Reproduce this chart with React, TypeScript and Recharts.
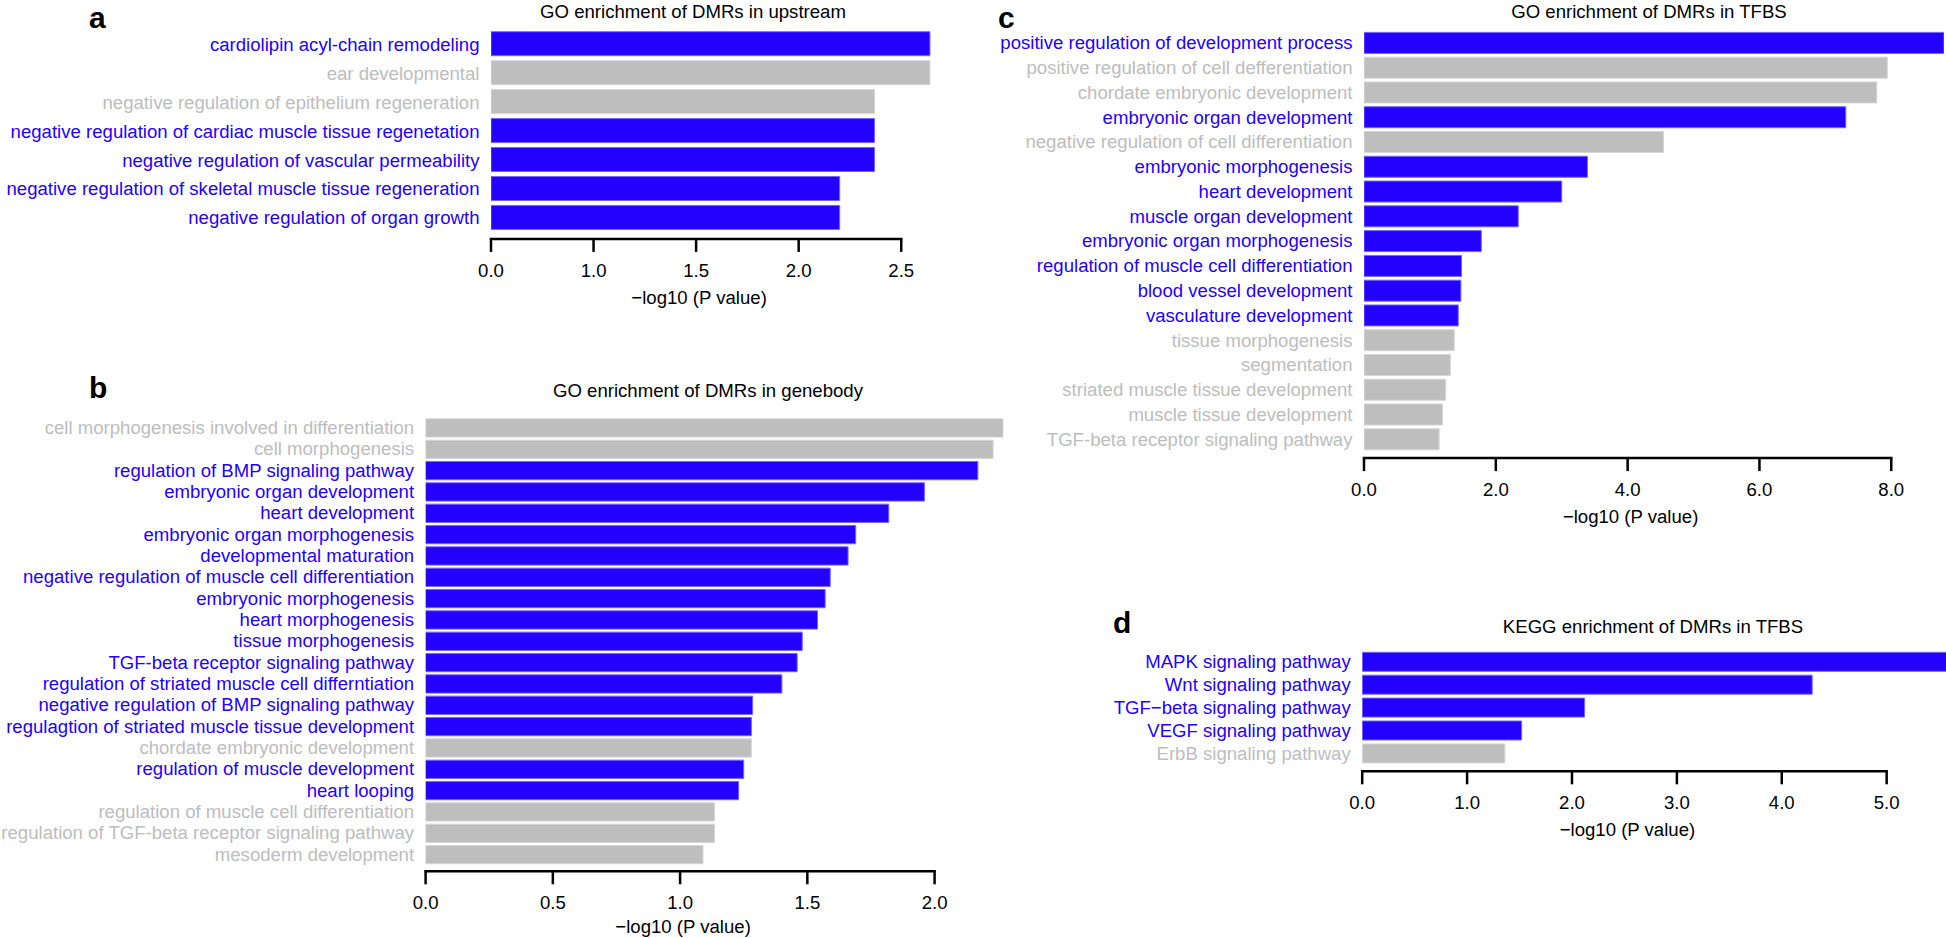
import React from 'react';
import { BarChart, Bar, XAxis, YAxis, Cell } from 'recharts';

const BLUE = '#2400ff';
const BLUE_EDGE = '#7466ff';
const GRAY = '#bebebe';
const GRAY_EDGE = '#d6d6d6';
const GRAY_TEXT = '#bdbdbd';
const FONT = '"Liberation Sans", Arial, Helvetica, sans-serif';
const FONT_SIZE = 18.6;
const AXIS_TITLE = '\u2212log10 (P value)';

// a: GO enrichment, upstream
const upstreamTerms = [
  'cardiolipin acyl-chain remodeling',
  'ear developmental',
  'negative regulation of epithelium regeneration',
  'negative regulation of cardiac muscle tissue regenetation',
  'negative regulation of vascular permeability',
  'negative regulation of skeletal muscle tissue regeneration',
  'negative regulation of organ growth',
];
const upstreamValues = [2.64, 2.64, 2.37, 2.37, 2.37, 2.2, 2.2];
const upstreamBlue = [true, false, false, true, true, true, true];
const upstreamTicks = [0.5, 1, 1.5, 2, 2.5];
const upstreamTickLabels = ['0.0', '1.0', '1.5', '2.0', '2.5'];

// b: GO enrichment, genebody
const genebodyTerms = [
  'cell morphogenesis involved in differentiation',
  'cell morphogenesis',
  'regulation of BMP signaling pathway',
  'embryonic organ development',
  'heart development',
  'embryonic organ morphogenesis',
  'developmental maturation',
  'negative regulation of muscle cell differentiation',
  'embryonic morphogenesis',
  'heart morphogenesis',
  'tissue morphogenesis',
  'TGF-beta receptor signaling pathway',
  'regulation of striated muscle cell differntiation',
  'negative regulation of BMP signaling pathway',
  'regulagtion of striated muscle tissue development',
  'chordate embryonic development',
  'regulation of muscle development',
  'heart looping',
  'regulation of muscle cell differentiation',
  'regulation of TGF-beta receptor signaling pathway',
  'mesoderm development',
];
const genebodyValues = [
  2.27, 2.23, 2.17, 1.96, 1.82, 1.69, 1.66, 1.59, 1.57, 1.54, 1.48,
  1.46, 1.4, 1.285, 1.28, 1.28, 1.25, 1.23, 1.135, 1.135, 1.09,
];
const genebodyBlue = [
  false, false, true, true, true, true, true, true, true, true, true,
  true, true, true, true, false, true, true, false, false, false,
];
const genebodyTicks = [0, 0.5, 1, 1.5, 2];
const genebodyTickLabels = ['0.0', '0.5', '1.0', '1.5', '2.0'];

// c: GO enrichment, TFBS
const tfbsTerms = [
  'positive regulation of development process',
  'positive regulation of cell defferentiation',
  'chordate embryonic development',
  'embryonic organ development',
  'negative regulation of cell differentiation',
  'embryonic morphogenesis',
  'heart development',
  'muscle organ development',
  'embryonic organ morphogenesis',
  'regulation of muscle cell differentiation',
  'blood vessel development',
  'vasculature development',
  'tissue morphogenesis',
  'segmentation',
  'striated muscle tissue development',
  'muscle tissue development',
  'TGF-beta receptor signaling pathway',
];
const tfbsValues = [
  8.8, 7.94, 7.78, 7.31, 4.545, 3.39, 3.0, 2.34, 1.78, 1.48, 1.47,
  1.43, 1.37, 1.31, 1.24, 1.19, 1.14,
];
const tfbsBlue = [
  true, false, false, true, false, true, true, true, true, true, true,
  true, false, false, false, false, false,
];
const tfbsTicks = [0, 2, 4, 6, 8];
const tfbsTickLabels = ['0.0', '2.0', '4.0', '6.0', '8.0'];

// d: KEGG enrichment, TFBS
const keggTerms = [
  'MAPK signaling pathway',
  'Wnt signaling pathway',
  'TGF\u2212beta signaling pathway',
  'VEGF signaling pathway',
  'ErbB signaling pathway',
];
const keggValues = [5.6, 4.29, 2.12, 1.52, 1.36];
const keggBlue = [true, true, true, true, false];
const keggTicks = [0, 1, 2, 3, 4, 5];
const keggTickLabels = ['0.0', '1.0', '2.0', '3.0', '4.0', '5.0'];

const AxisTick = (props: any) => {
  const { x, y, index, labels, span, titleOffset } = props;
  const base = y + 6.5;
  return (
    <g>
      {index === 0 && (
        <line x1={x - 1.25} x2={x + span + 1.25} y1={base} y2={base} stroke="#000" strokeWidth={2.5} />
      )}
      <line x1={x} x2={x} y1={base} y2={base + 13} stroke="#000" strokeWidth={2.5} />
      <text x={x} y={base + 31.5} textAnchor="middle" dominantBaseline="central" fontSize={FONT_SIZE} fontFamily={FONT} fill="#000">
        {labels[index]}
      </text>
      {index === 0 && (
        <text x={x + span / 2 + 3} y={base + titleOffset} textAnchor="middle" dominantBaseline="central" fontSize={FONT_SIZE} fontFamily={FONT} fill="#000">
          {AXIS_TITLE}
        </text>
      )}
    </g>
  );
};

const TermTick = (props: any) => {
  const { x, y, index, payload, blue } = props;
  return (
    <text x={x - 11.5} y={y} textAnchor="end" dominantBaseline="central" fontSize={FONT_SIZE} fontFamily={FONT} fill={blue[index] ? BLUE : GRAY_TEXT}>
      {payload.value}
    </text>
  );
};

interface PanelProps {
  terms: string[];
  values: number[];
  blue: boolean[];
  ticks: number[];
  tickLabels: string[];
  domain: [number, number];
  left: number;
  top: number;
  labelWidth: number;
  plotTop: number;
  plotWidth: number;
  plotHeight: number;
  barSize: number;
  titleOffset?: number;
}

function Panel(p: PanelProps) {
  const data = p.terms.map((term, i) => ({ term, value: p.values[i] }));
  const axisHeight = 80;
  const ppu = p.plotWidth / (p.domain[1] - p.domain[0]);
  const span = (p.ticks[p.ticks.length - 1] - p.ticks[0]) * ppu;
  return (
    <div style={{ position: 'absolute', left: p.left, top: p.top }}>
      <BarChart
        layout="vertical"
        width={p.labelWidth + p.plotWidth + 4}
        height={p.plotTop + p.plotHeight + axisHeight}
        data={data}
        margin={{ top: p.plotTop, right: 4, bottom: 0, left: 0 }}
        barSize={p.barSize}
      >
        <XAxis
          type="number"
          domain={p.domain}
          ticks={p.ticks}
          interval={0}
          allowDataOverflow
          axisLine={false}
          tickLine={false}
          tickSize={0}
          tickMargin={0}
          height={axisHeight}
          tick={(t: any) => (
            <AxisTick {...t} labels={p.tickLabels} span={span} titleOffset={p.titleOffset ?? 58.5} />
          )}
        />
        <YAxis
          type="category"
          dataKey="term"
          width={p.labelWidth}
          interval={0}
          axisLine={false}
          tickLine={false}
          tickSize={0}
          tickMargin={0}
          tick={(t: any) => <TermTick {...t} blue={p.blue} />}
        />
        <Bar dataKey="value" isAnimationActive={false}>
          {data.map((d, i) => (
            <Cell
              key={`cell-${i}`}
              fill={p.blue[i] ? BLUE : GRAY}
              stroke={p.blue[i] ? BLUE_EDGE : GRAY_EDGE}
              strokeWidth={1}
            />
          ))}
        </Bar>
      </BarChart>
    </div>
  );
}

export default function App() {
  const letter = { fontSize: 30, fontWeight: 700, fontFamily: FONT, fill: '#000' } as const;
  const title = { fontSize: FONT_SIZE, fontFamily: FONT, fill: '#000', textAnchor: 'middle' } as const;
  return (
    <div style={{ position: 'absolute', left: 0, top: 0, width: 1946, height: 938, overflow: 'hidden', background: '#fff', fontFamily: FONT }}>
      <Panel
        terms={upstreamTerms} values={upstreamValues} blue={upstreamBlue}
        ticks={upstreamTicks} tickLabels={upstreamTickLabels} domain={[0.5, 2.65]}
        left={0} top={0} labelWidth={491} plotTop={29.7} plotWidth={441} plotHeight={202.7} barSize={24}
      />
      <Panel
        terms={genebodyTerms} values={genebodyValues} blue={genebodyBlue}
        ticks={genebodyTicks} tickLabels={genebodyTickLabels} domain={[0, 2.27]}
        left={0} top={400} labelWidth={425.6} plotTop={16.8} plotWidth={577.7} plotHeight={448} barSize={18.3}
        titleOffset={55.5}
      />
      <Panel
        terms={tfbsTerms} values={tfbsValues} blue={tfbsBlue}
        ticks={tfbsTicks} tickLabels={tfbsTickLabels} domain={[0, 8.8]}
        left={960} top={0} labelWidth={404} plotTop={30.4} plotWidth={580} plotHeight={421.2} barSize={21}
      />
      <Panel
        terms={keggTerms} values={keggValues} blue={keggBlue}
        ticks={keggTicks} tickLabels={keggTickLabels} domain={[0, 5.6]}
        left={960} top={600} labelWidth={402.2} plotTop={50.3} plotWidth={587.4} plotHeight={114.5} barSize={19}
      />
      <svg width={1946} height={938} style={{ position: 'absolute', left: 0, top: 0, pointerEvents: 'none' }}>
        <text x={89} y={27.8} {...letter}>a</text>
        <text x={89} y={398} {...letter}>b</text>
        <text x={998} y={27.8} {...letter}>c</text>
        <text x={1113} y={633} {...letter}>d</text>
        <text x={693} y={17.5} {...title}>GO enrichment of DMRs in upstream</text>
        <text x={708} y={397} {...title}>GO enrichment of DMRs in genebody</text>
        <text x={1649} y={17.5} {...title}>GO enrichment of DMRs in TFBS</text>
        <text x={1653} y={632.5} {...title}>KEGG enrichment of DMRs in TFBS</text>
      </svg>
    </div>
  );
}
